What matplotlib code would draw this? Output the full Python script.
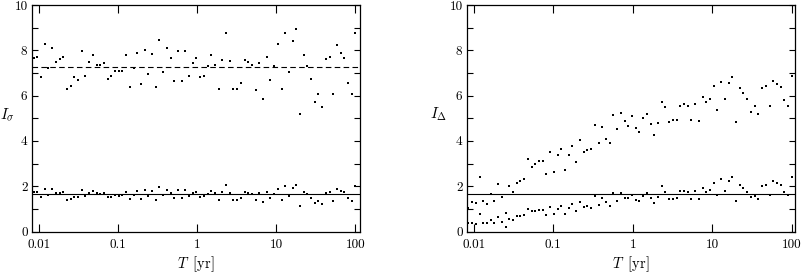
import numpy as np
import matplotlib
matplotlib.use("Agg")
import matplotlib.pyplot as plt
from matplotlib.ticker import FixedLocator, FixedFormatter, NullLocator, MultipleLocator

plt.rcParams['mathtext.fontset'] = 'cm'

# sampling periods T [yr], log-spaced
T = np.logspace(-2.067, 2.0, 88)

# left panel: I_sigma
sig_hi = [7.66, 7.72, 6.84, 8.27, 7.20, 8.08, 7.50, 7.63, 7.69, 6.27,
          6.44, 6.84, 6.70, 7.99, 6.88, 7.50, 7.77, 7.37, 7.37, 7.46,
          6.75, 6.88, 7.07, 7.07, 7.10, 7.81, 6.39, 7.20, 7.90, 6.53,
          8.03, 6.97, 7.85, 6.39, 8.47, 7.06, 8.12, 7.68, 6.63, 7.99,
          6.63, 7.99, 6.88, 7.46, 7.68, 6.84, 6.88, 7.32, 7.78, 7.37,
          6.30, 7.59, 8.78, 7.52, 6.27, 6.27, 6.54, 7.56, 7.47, 7.37,
          6.23, 7.43, 5.83, 7.72, 6.70, 7.29, 8.27, 6.27, 8.75, 7.03,
          8.43, 8.93, 5.17, 7.78, 7.29, 6.72, 5.70, 6.08, 5.48, 7.60,
          7.69, 6.05, 8.22, 7.87, 7.65, 6.54, 6.05, 8.75]
sig_lo = [1.76, 1.76, 1.54, 1.89, 1.63, 1.89, 1.72, 1.72, 1.76, 1.41,
          1.45, 1.54, 1.54, 1.85, 1.58, 1.72, 1.81, 1.72, 1.67, 1.72,
          1.54, 1.54, 1.63, 1.58, 1.63, 1.76, 1.45, 1.63, 1.81, 1.45,
          1.85, 1.58, 1.81, 1.41, 1.98, 1.63, 1.85, 1.72, 1.50, 1.85,
          1.50, 1.85, 1.58, 1.72, 1.76, 1.54, 1.58, 1.67, 1.81, 1.72,
          1.41, 1.76, 2.07, 1.72, 1.41, 1.41, 1.50, 1.76, 1.72, 1.67,
          1.41, 1.72, 1.32, 1.76, 1.50, 1.67, 1.89, 1.41, 2.02, 1.58,
          1.94, 2.07, 1.14, 1.76, 1.67, 1.50, 1.28, 1.37, 1.23, 1.72,
          1.76, 1.37, 1.89, 1.81, 1.76, 1.50, 1.37, 2.02]
sig_hi_mean = 7.27
sig_lo_mean = 1.66

# right panel: I_Delta
del_hi = [1.05, 1.30, 1.27, 2.43, 1.36, 1.21, 1.66, 1.36, 2.10, 1.54,
          0.80, 1.99, 1.75, 2.16, 2.25, 2.34, 3.19, 2.83, 2.96, 3.10,
          3.10, 2.56, 3.50, 2.65, 3.36, 3.63, 2.70, 3.36, 3.76, 3.05,
          4.03, 3.50, 3.59, 3.63, 4.70, 3.90, 4.61, 4.07, 3.90, 5.14,
          4.52, 5.23, 4.87, 4.65, 5.10, 4.56, 4.39, 5.01, 5.19, 4.74,
          4.25, 4.79, 5.72, 5.50, 4.83, 4.92, 4.92, 5.54, 5.63, 5.54,
          4.92, 5.63, 4.87, 5.94, 5.72, 5.85, 6.43, 5.36, 6.61, 5.85,
          6.56, 6.83, 4.83, 6.34, 6.12, 5.85, 5.27, 5.54, 5.19, 6.34,
          6.43, 5.54, 6.65, 6.52, 6.39, 5.81, 5.54, 6.87]
del_lo = [0.36, 0.39, 0.34, 0.79, 0.39, 0.39, 0.52, 0.39, 0.65, 0.43,
          0.21, 0.56, 0.52, 0.70, 0.70, 0.74, 1.01, 0.92, 0.92, 0.96,
          0.96, 0.74, 1.10, 0.79, 1.01, 1.14, 0.79, 1.05, 1.23, 0.92,
          1.32, 1.10, 1.14, 1.05, 1.59, 1.19, 1.50, 1.32, 1.14, 1.72,
          1.36, 1.72, 1.50, 1.50, 1.63, 1.41, 1.36, 1.59, 1.72, 1.50,
          1.27, 1.54, 1.99, 1.76, 1.45, 1.45, 1.50, 1.81, 1.81, 1.76,
          1.45, 1.81, 1.45, 1.94, 1.76, 1.85, 2.16, 1.63, 2.30, 1.81,
          2.21, 2.39, 1.36, 2.07, 1.94, 1.76, 1.54, 1.59, 1.45, 2.03,
          2.07, 1.63, 2.21, 2.16, 2.07, 1.76, 1.63, 2.39]
del_ref = 1.66

xticks = [0.01, 0.1, 1, 10, 100]
xticklabels = ["0.01", "0.1", "1", "10", "100"]
yticks = [0, 2, 4, 6, 8, 10]

fig = plt.figure(figsize=(8.02, 2.76), dpi=100)
ax1 = fig.add_axes([0.0395, 0.161, 0.409, 0.821])
ax2 = fig.add_axes([0.582, 0.161, 0.409, 0.821])


def style(ax, xlim, ylabel, lx):
    ax.set_xscale("log")
    ax.set_xlim(*xlim)
    ax.set_ylim(0, 10)
    ax.xaxis.set_major_locator(FixedLocator(xticks))
    ax.xaxis.set_major_formatter(FixedFormatter(xticklabels))
    ax.xaxis.set_minor_locator(NullLocator())
    ax.yaxis.set_major_locator(FixedLocator(yticks))
    ax.yaxis.set_minor_locator(MultipleLocator(1))
    ax.tick_params(which="both", direction="in", top=True, right=True,
                   width=0.8, labelsize=9.5)
    ax.tick_params(axis="x", which="major", length=6, pad=5)
    ax.tick_params(axis="y", which="both", length=4, pad=3)
    for lab in ax.get_xticklabels() + ax.get_yticklabels():
        lab.set_family("cmr10")
    for s in ax.spines.values():
        s.set_linewidth(0.9)
    ax.set_xlabel(r"$T\;\;[\mathrm{yr}]$", fontsize=10.5)
    ax.xaxis.set_label_coords(0.5, -0.1)
    ax.set_ylabel(ylabel, fontsize=11, rotation=0)
    ax.yaxis.set_label_coords(lx, 0.48)


ms = 1.6
ax1.plot(T, sig_hi, "s", color="black", ms=ms, mew=0)
ax1.plot(T, sig_lo, "s", color="black", ms=ms, mew=0)
ax1.axhline(sig_hi_mean, color="black", lw=0.8, ls=(0, (5, 3)))
ax1.axhline(sig_lo_mean, color="black", lw=0.8)
style(ax1, (0.0081, 113), r"$I_\sigma$", -0.075)

ax2.plot(T, del_hi, "s", color="black", ms=ms, mew=0)
ax2.plot(T, del_lo, "s", color="black", ms=ms, mew=0)
ax2.axhline(del_ref, color="black", lw=0.8)
style(ax2, (0.00817, 109), r"$I_\Delta$", -0.085)

fig.savefig("out.png", dpi=100)
